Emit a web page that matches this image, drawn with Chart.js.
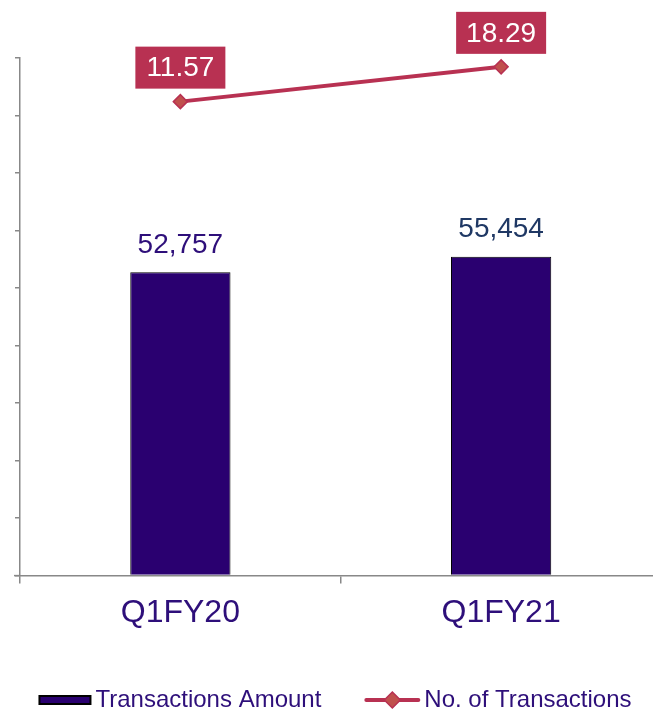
<!DOCTYPE html>
<html lang="en">
<head>
  <meta charset="UTF-8">
  <title>Transactions Q1FY20 vs Q1FY21</title>
  <style>
    html, body {
      margin: 0;
      padding: 0;
      background: #fff;
      overflow: hidden;
    }
    .chart-box {
      position: absolute;
      left: 0;
      top: 0;
      width: 670px;
      height: 711px;
    }
  </style>
  <script src="https://cdn.jsdelivr.net/npm/chart.js"></script>
</head>
<body>
  <div class="chart-box">
    <canvas id="txnChart"></canvas>
  </div>

  <script>
    const quarters = ['Q1FY20', 'Q1FY21'];
    const txnAmount = [52757, 55454];
    const txnCount = [11.57, 18.29];
    const seriesNames = ['Transactions Amount', 'No. of Transactions'];

    const BAR_FILL = '#2A0070';
    const LINE_RED = '#B83152';
    const MARKER_FILL = '#C0504D';
    const TEXT_PURPLE = '#2E0F7A';
    const amountLabelColors = ['#2E0F7A', '#1F3864'];
    const FONT = 'Arial, "Liberation Sans", sans-serif';

    // value labels: plain text above bars, boxed labels above line points
    const valueLabels = {
      id: 'valueLabels',
      afterDatasetsDraw(chart) {
        const ctx = chart.ctx;
        ctx.save();
        ctx.textAlign = 'center';
        ctx.textBaseline = 'middle';
        ctx.font = '28px ' + FONT;

        chart.getDatasetMeta(0).data.forEach((bar, i) => {
          ctx.fillStyle = amountLabelColors[i];
          ctx.fillText(txnAmount[i].toLocaleString('en-US'), bar.x, bar.y - 27);
        });

        chart.getDatasetMeta(1).data.forEach((pt, i) => {
          const cy = pt.y - 34;
          ctx.fillStyle = LINE_RED;
          ctx.fillRect(pt.x - 45, cy - 21, 90, 42);
          ctx.fillStyle = '#fff';
          ctx.fillText(txnCount[i].toFixed(2), pt.x, cy + 1);
        });
        ctx.restore();
      }
    };

    // legend row under the axis: bar swatch, then line-with-diamond swatch
    const bottomLegend = {
      id: 'bottomLegend',
      afterDraw(chart) {
        const ctx = chart.ctx;
        const y = 700;
        ctx.save();
        ctx.font = '24px ' + FONT;
        ctx.textBaseline = 'middle';
        const w1 = ctx.measureText(seriesNames[0]).width;
        const w2 = ctx.measureText(seriesNames[1]).width;
        const total = 53 + 4 + w1 + 43 + 56 + 4 + w2;
        let x = chart.width / 2 - total / 2;

        // bar swatch
        ctx.fillStyle = '#000';
        ctx.fillRect(x, y - 5, 53, 10);
        ctx.fillStyle = BAR_FILL;
        ctx.fillRect(x + 2, y - 3, 49, 6);
        x += 57;
        ctx.fillStyle = TEXT_PURPLE;
        ctx.fillText(seriesNames[0], x, y);
        x += w1 + 43;

        // line swatch with diamond marker
        ctx.strokeStyle = LINE_RED;
        ctx.lineWidth = 4;
        ctx.lineCap = 'round';
        ctx.beginPath();
        ctx.moveTo(x + 2, y);
        ctx.lineTo(x + 54, y);
        ctx.stroke();
        const mx = x + 28;
        ctx.beginPath();
        ctx.moveTo(mx, y - 8);
        ctx.lineTo(mx + 8, y);
        ctx.lineTo(mx, y + 8);
        ctx.lineTo(mx - 8, y);
        ctx.closePath();
        ctx.fillStyle = MARKER_FILL;
        ctx.fill();
        ctx.lineWidth = 1.5;
        ctx.stroke();
        x += 60;
        ctx.fillStyle = TEXT_PURPLE;
        ctx.fillText(seriesNames[1], x, y);

        // x axis line runs a little past the value axis on the left
        const area = chart.chartArea;
        ctx.strokeStyle = '#888';
        ctx.lineWidth = 1.5;
        ctx.lineCap = 'butt';
        ctx.beginPath();
        ctx.moveTo(14, area.bottom);
        ctx.lineTo(area.left, area.bottom);
        ctx.stroke();
        ctx.restore();
      }
    };

    new Chart(document.getElementById('txnChart'), {
      data: {
        labels: quarters,
        datasets: [
          {
            type: 'bar',
            label: seriesNames[0],
            data: txnAmount,
            yAxisID: 'y',
            backgroundColor: BAR_FILL,
            borderColor: '#000',
            borderWidth: 1,
            borderSkipped: 'bottom',
            categoryPercentage: 1,
            barPercentage: 0.3125
          },
          {
            type: 'line',
            label: seriesNames[1],
            data: txnCount,
            yAxisID: 'y2',
            borderColor: LINE_RED,
            borderWidth: 4,
            pointStyle: 'rectRot',
            pointRadius: 7,
            pointBackgroundColor: MARKER_FILL,
            pointBorderColor: LINE_RED,
            pointBorderWidth: 1.5,
            tension: 0
          }
        ]
      },
      options: {
        responsive: true,
        maintainAspectRatio: false,
        animation: false,
        layout: {
          padding: { left: 15, right: 8, top: 58, bottom: 69 }
        },
        plugins: {
          tooltip: { enabled: false },
          legend: { display: false }
        },
        scales: {
          x: {
            offset: true,
            grid: {
              offset: true,
              drawOnChartArea: false,
              tickLength: 8,
              color: '#888',
              lineWidth: 1.5
            },
            border: { color: '#888', width: 1.5 },
            ticks: {
              color: TEXT_PURPLE,
              font: { family: FONT, size: 32 },
              padding: 10
            }
          },
          y: {
            position: 'left',
            min: 0,
            max: 90000,
            ticks: { stepSize: 10000, display: false },
            grid: {
              drawOnChartArea: false,
              tickLength: 5,
              color: '#888',
              lineWidth: 1.5
            },
            border: { color: '#888', width: 1.5 }
          },
          y2: {
            display: false,
            min: -80,
            max: 20
          }
        }
      },
      plugins: [valueLabels, bottomLegend]
    });
  </script>
</body>
</html>
